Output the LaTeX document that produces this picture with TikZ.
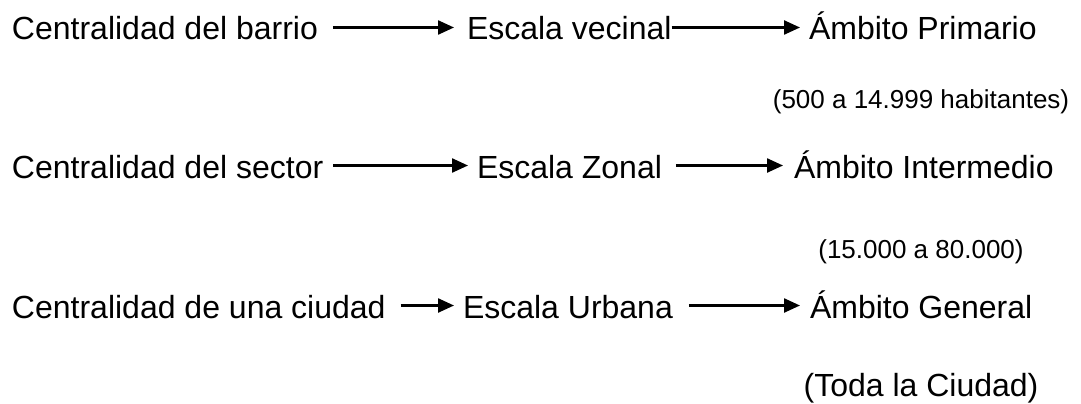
\documentclass[tikz,border=0pt]{standalone}
\usepackage{fontspec}
\setmainfont{Liberation Sans}
\usetikzlibrary{arrows.meta, positioning}

\begin{document}
\begin{tikzpicture}[
    x=1pt, y=-1pt,
    every node/.style={inner sep=0pt, outer sep=0pt},
    lbl/.style={anchor=base west, font=\fontsize{32}{38}\selectfont, text height=25pt, text depth=0pt},
    sublbl/.style={anchor=base, font=\fontsize{26}{31}\selectfont},
    arrow/.style={-{Triangle[length=16pt, width=14pt]}, line width=2.4pt}
]
\useasboundingbox (0,0) rectangle (1081,404);

% ============ ROW 1: Barrio ============
\node[lbl] (barrio) at (12,40) {Centralidad del barrio};
\node[lbl] (vecinal) at (467,40) {Escala vecinal};
\node[lbl] (primario) at (809,40) {Ámbito Primario};
\node[sublbl] (primsub) at (921,108) {(500 a 14.999 habitantes)};

% ============ ROW 2: Sector ============
\node[lbl] (sector) at (12,178) {Centralidad del sector};
\node[lbl] (zonal) at (477,178) {Escala Zonal};
\node[lbl] (intermedio) at (794,178) {Ámbito Intermedio};
\node[sublbl] (intersub) at (921,258) {(15.000 a 80.000)};

% ============ ROW 3: Ciudad ============
\node[lbl] (ciudad) at (12,318) {Centralidad de una ciudad};
\node[lbl] (urbana) at (463,318) {Escala Urbana};
\node[lbl] (general) at (810,318) {Ámbito General};
\node[sublbl, font=\fontsize{32}{38}\selectfont] (gensub) at (921,396) {(Toda la Ciudad)};

% ============ ARROWS ============
\draw[arrow] ([xshift=15pt]barrio.east) -- ([xshift=-13pt]vecinal.west);
\draw[arrow] (vecinal.east) -- ([xshift=-9pt]primario.west);

\draw[arrow] ([xshift=10pt]sector.east) -- ([xshift=-9pt]zonal.west);
\draw[arrow] ([xshift=14pt]zonal.east) -- ([xshift=-11pt]intermedio.west);

\draw[arrow] ([xshift=15pt]ciudad.east) -- ([xshift=-9pt]urbana.west);
\draw[arrow] ([xshift=16pt]urbana.east) -- ([xshift=-10pt]general.west);

\end{tikzpicture}
\end{document}
